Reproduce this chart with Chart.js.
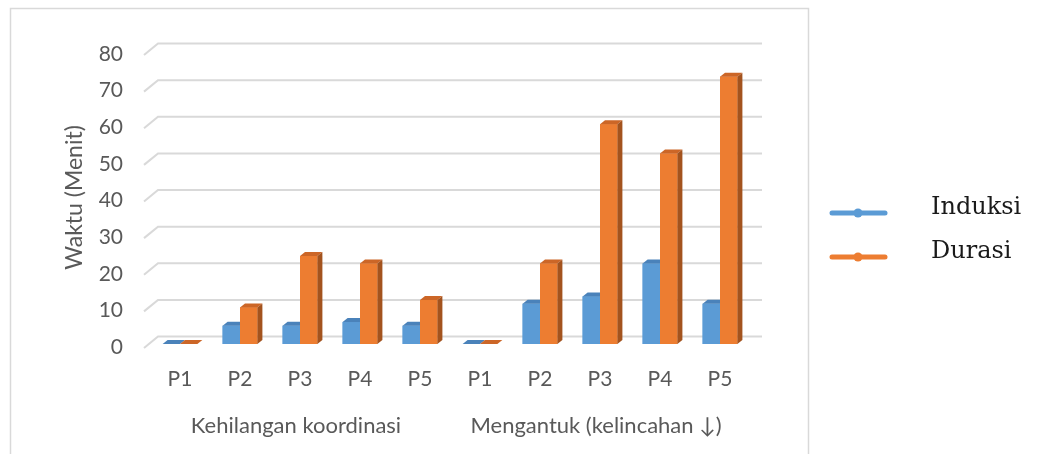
<!DOCTYPE html>
<html>
<head>
<meta charset="utf-8">
<script src="https://cdn.jsdelivr.net/npm/chart.js@4"></script>
<style>
  body { margin: 0; background: #fff; }
  #wrap { position: relative; width: 1037px; height: 454px; }
</style>
</head>
<body>
<div id="wrap"><canvas id="chart" width="1037" height="454"></canvas></div>
<script>
// Dane wykresu
const categories = ['P1', 'P2', 'P3', 'P4', 'P5', 'P1', 'P2', 'P3', 'P4', 'P5'];
const groups = ['Kehilangan koordinasi', 'Mengantuk (kelincahan \u2193)'];
const groupSize = 5;
const induksi = [0, 5, 5, 6, 5, 0, 11, 13, 22, 11];
const durasi = [0, 10, 24, 22, 12, 0, 22, 60, 52, 73];
const yTicks = { min: 0, max: 80, step: 10 };

const colors = {
    induksi: { front: '#5B9BD5', top: '#4A82BA', side: '#3D6C9C' },
    durasi: { front: '#ED7D31', top: '#CC6627', side: '#A3531E' }
};

const depth = { dx: 5, dy: -4 };        // glebokosc slupka
const wallDy = -7.5;                    // przesuniecie tylnej sciany
const gray = '#595959';

// Rama wykresu, siatka na tylnej scianie, sciany 3D slupkow i etykiety grup
const frame3d = {
    id: 'frame3d',
    beforeDraw(chart) {
        const ctx = chart.ctx;
        ctx.save();
        ctx.fillStyle = '#fff';
        ctx.fillRect(0, 0, chart.width, chart.height);
        ctx.strokeStyle = '#d9d9d9';
        ctx.lineWidth = 1.5;
        ctx.strokeRect(10.5, 8.5, 798, 470);
        ctx.restore();
    },
    beforeDatasetsDraw(chart) {
        const ctx = chart.ctx;
        const y = chart.scales.y;
        const area = chart.chartArea;
        ctx.save();
        ctx.strokeStyle = '#d9d9d9';
        ctx.lineWidth = 2;
        for (let v = yTicks.min; v <= yTicks.max; v += yTicks.step) {
            const py = y.getPixelForValue(v);
            ctx.beginPath();
            ctx.moveTo(area.left - 6, py + 4);
            ctx.lineTo(area.left + 8, py + wallDy);
            ctx.lineTo(area.right + 12, py + wallDy);
            ctx.stroke();
        }
        ctx.restore();
    },
    afterDatasetsDraw(chart) {
        const ctx = chart.ctx;
        ctx.save();
        // po kolei: najpierw Induksi, potem Durasi (przod zakrywa bok poprzedniego)
        chart.data.datasets.forEach((ds, i) => {
            const c = ds.faces;
            chart.getDatasetMeta(i).data.forEach(bar => {
                const p = bar.getProps(['x', 'y', 'base', 'width'], true);
                const l = p.x - p.width / 2;
                const r = p.x + p.width / 2;
                ctx.fillStyle = c.front;
                ctx.fillRect(l, p.y, r - l, p.base - p.y);
                // gorna sciana
                ctx.fillStyle = c.top;
                ctx.beginPath();
                ctx.moveTo(l, p.y);
                ctx.lineTo(l + depth.dx, p.y + depth.dy);
                ctx.lineTo(r + depth.dx, p.y + depth.dy);
                ctx.lineTo(r, p.y);
                ctx.closePath();
                ctx.fill();
                // boczna sciana
                ctx.fillStyle = c.side;
                ctx.beginPath();
                ctx.moveTo(r, p.y);
                ctx.lineTo(r + depth.dx, p.y + depth.dy);
                ctx.lineTo(r + depth.dx, p.base + depth.dy);
                ctx.lineTo(r, p.base);
                ctx.closePath();
                ctx.fill();
            });
        });
        ctx.restore();
    },
    afterDraw(chart) {
        const ctx = chart.ctx;
        const x = chart.scales.x;
        ctx.save();
        // etykiety grup pod osia X
        ctx.fillStyle = gray;
        ctx.font = '22px Lato';
        ctx.textAlign = 'center';
        ctx.textBaseline = 'middle';
        groups.forEach((g, i) => {
            const a = x.getPixelForValue(i * groupSize);
            const b = x.getPixelForValue(i * groupSize + groupSize - 1);
            ctx.fillText(g, (a + b) / 2 - 4, 426);
        });
        // legenda po prawej stronie
        ctx.font = '24px "DejaVu Serif"';
        ctx.textAlign = 'left';
        chart.data.datasets.forEach((ds, i) => {
            const ly = 213 + i * 44;
            ctx.strokeStyle = ds.backgroundColor;
            ctx.lineWidth = 5;
            ctx.lineCap = 'round';
            ctx.beginPath();
            ctx.moveTo(832, ly);
            ctx.lineTo(885, ly);
            ctx.stroke();
            ctx.fillStyle = ds.backgroundColor;
            ctx.beginPath();
            ctx.arc(858, ly, 4.5, 0, Math.PI * 2);
            ctx.fill();
            ctx.fillStyle = '#1a1a1a';
            ctx.fillText(ds.label, 931, ly - 5);
        });
        ctx.restore();
    }
};

new Chart(document.getElementById('chart'), {
    type: 'bar',
    data: {
        labels: categories,
        datasets: [{
            label: 'Induksi',
            data: induksi,
            backgroundColor: colors.induksi.front,
            faces: colors.induksi
        }, {
            label: 'Durasi',
            data: durasi,
            backgroundColor: colors.durasi.front,
            faces: colors.durasi
        }]
    },
    options: {
        responsive: false,
        animation: false,
        layout: { padding: { top: 51, right: 287, bottom: 0, left: 0 } },
        datasets: { bar: { barPercentage: 1, categoryPercentage: 0.58 } },
        plugins: { legend: { display: false }, tooltip: { enabled: false } },
        scales: {
            x: {
                grid: { display: false, drawTicks: false },
                border: { display: false },
                ticks: { color: gray, font: { family: 'Lato', size: 21 }, padding: 23 },
                afterFit(scale) { scale.height = 110; }
            },
            y: {
                min: yTicks.min,
                max: yTicks.max,
                grid: { display: false, drawTicks: false },
                border: { display: false },
                ticks: { stepSize: yTicks.step, color: gray, font: { family: 'Lato', size: 21 }, padding: 27, labelOffset: 3 },
                title: {
                    display: true,
                    text: 'Waktu (Menit)',
                    color: gray,
                    font: { family: 'Lato', size: 23 },
                    padding: { top: 61 }
                },
                afterFit(scale) { scale.width = 150; }
            }
        }
    },
    plugins: [frame3d]
});
</script>
</body>
</html>
